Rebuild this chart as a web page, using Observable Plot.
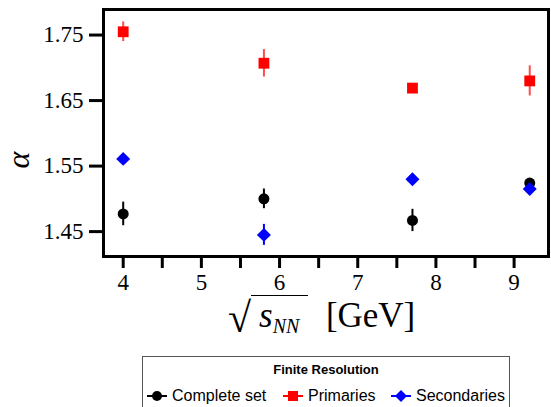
<!DOCTYPE html>
<html><head><meta charset="utf-8">
<script src="https://cdn.jsdelivr.net/npm/d3@7"></script>
<script src="https://cdn.jsdelivr.net/npm/@observablehq/plot@0.6"></script>
<style>
body{margin:0;background:#fff;width:551px;height:407px;position:relative;overflow:hidden}
#chart{position:absolute;left:0;top:0}
#chart svg text{font-family:"Liberation Serif",serif !important}
#ylabel{position:absolute;left:10px;top:144px;font-family:"Liberation Serif",serif;font-style:italic;font-size:32px;transform:rotate(-90deg);transform-origin:center;line-height:1}
#xlabel{position:absolute;left:228px;top:295px;font-family:"Liberation Serif",serif;font-size:35px;white-space:nowrap;line-height:1}
#xlabel .rad{font-size:42px;vertical-align:-5px}
#xlabel .over{border-top:1.5px solid #000;padding:2px 9px 0 8px;display:inline-block;line-height:1}
#xlabel sub{font-size:20px;font-style:italic;vertical-align:-6px}
#legend{position:absolute;left:142px;top:356px;width:368px;height:60px;border:1px solid #555;font-family:"Liberation Sans",Arial,sans-serif;box-sizing:border-box}
#legend .title{position:absolute;left:0;right:0;top:5px;text-align:center;font-weight:bold;font-size:13px}
#legend .item{position:absolute;top:30px;font-size:16px;white-space:nowrap;display:flex;align-items:center}
#legend .item svg{margin-right:4px}
</style></head><body>
<div id="chart"></div>
<div id="ylabel">α</div>
<div id="xlabel"><span class="rad">√</span><span class="over"><i>s</i><sub>NN</sub></span>&nbsp;&nbsp;[GeV]</div>
<div id="legend"></div>
<script>
const seriesNames = ["Complete set", "Primaries", "Secondaries"];
const seriesColors = ["black", "red", "blue"];
const energies = [4, 5.8, 7.7, 9.2];
const completeAlpha = [1.477, 1.500, 1.467, 1.524];
const completeErr = [0.018, 0.015, 0.017, 0.004];
const primAlpha = [1.755, 1.707, 1.669, 1.680];
const primErr = [0.015, 0.021, 0.004, 0.023];
const secAlpha = [1.561, 1.445, 1.530, 1.515];
const secErr = [0.004, 0.016, 0.004, 0.005];
const xTicks = [4, 4.5, 5, 5.5, 6, 6.5, 7, 7.5, 8, 8.5, 9];
const yTicks = [1.45, 1.55, 1.65, 1.75];

const mk = (vals, errs, s) => energies.map((e, i) => ({series: s, x: e, y: vals[i], err: errs[i]}));
const complete = mk(completeAlpha, completeErr, seriesNames[0]);
const prim = mk(primAlpha, primErr, seriesNames[1]);
const sec = mk(secAlpha, secErr, seriesNames[2]);

const bars = (data, color, op) => Plot.ruleX(data, {x: "x", y1: d => d.y - d.err, y2: d => d.y + d.err, stroke: color, strokeWidth: 2, strokeOpacity: op});
const serif = "'Liberation Serif', serif";

const chart = Plot.plot({
  width: 551, height: 300,
  marginLeft: 103, marginRight: 3, marginTop: 9, marginBottom: 44,
  style: {fontFamily: serif, fontSize: "23px", background: "white", color: "black"},
  x: {domain: [3.748, 9.44], label: null},
  y: {domain: [1.412, 1.789], label: null},
  marks: [
    bars(complete, "black", 1),
    bars(prim, "red", 0.7),
    bars(sec, "blue", 1),
    Plot.dot(complete, {x: "x", y: "y", r: 5.5, fill: "black", symbol: "circle"}),
    Plot.dot(prim, {x: "x", y: "y", r: 6.1, fill: "red", symbol: "square"}),
    Plot.dot(sec, {x: "x", y: "y", r: 6.3, fill: "blue", symbol: "diamond2"}),
    Plot.axisX({ticks: xTicks, tickFormat: d => Number.isInteger(d) ? String(d) : "", tickSize: 12, tickPadding: 5, strokeWidth: 3, label: null, fontFamily: serif, fontSize: 23}),
    Plot.axisY({ticks: yTicks, tickFormat: d => d.toFixed(2), tickSize: 14, tickPadding: 6, strokeWidth: 3, label: null, fontFamily: serif, fontSize: 23}),
    Plot.frame({stroke: "black", strokeWidth: 3})
  ]
});
d3.select(chart).selectAll("text").style("font-family", serif).style("font-variant", "normal");
document.getElementById("chart").appendChild(chart);

const legend = document.getElementById("legend");
const title = document.createElement("div");
title.className = "title";
title.textContent = "Finite Resolution";
legend.appendChild(title);
const symbols = [
  `<circle cx="10" cy="6" r="5" fill="black"/>`,
  `<rect x="5" y="1" width="10" height="10" fill="red"/>`,
  `<path d="M10,0 L16,6 L10,12 L4,6 Z" fill="blue"/>`
];
const lefts = [4, 140, 248];
seriesNames.forEach((name, i) => {
  const it = document.createElement("div");
  it.className = "item";
  it.style.left = lefts[i] + "px";
  it.innerHTML = `<svg width="21" height="12"><line x1="0" x2="20" y1="6" y2="6" stroke="${seriesColors[i]}" stroke-width="2"/>${symbols[i]}</svg><span>${name}</span>`;
  legend.appendChild(it);
});
</script>
</body></html>
